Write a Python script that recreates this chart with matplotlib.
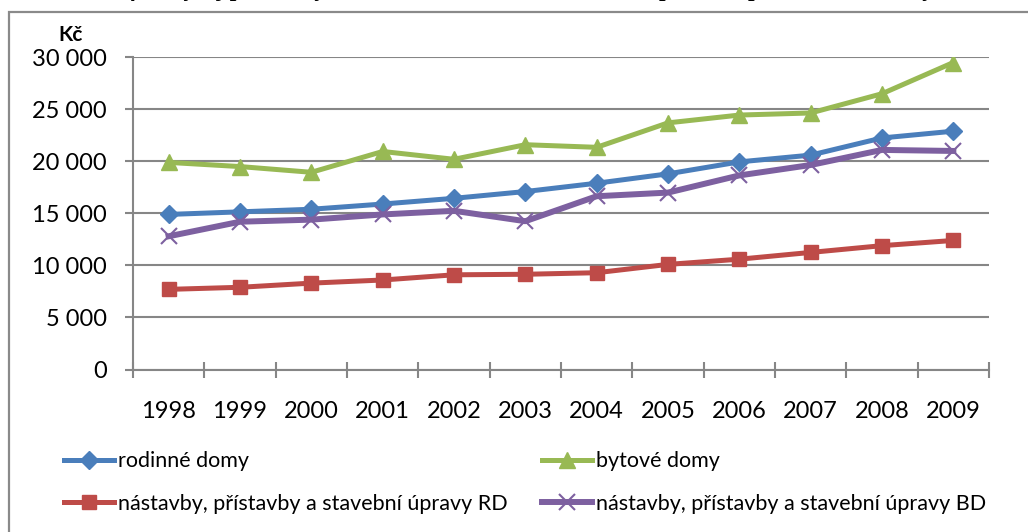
import matplotlib.pyplot as plt
from matplotlib.patches import Rectangle

plt.rcParams['font.family'] = ['Lato', 'DejaVu Sans']

years = ['1998', '1999', '2000', '2001', '2002', '2003',
         '2004', '2005', '2006', '2007', '2008', '2009']
rodinne_domy = [14900, 15150, 15400, 15900, 16450, 17100,
                17900, 18800, 19950, 20600, 22250, 22900]
bytove_domy = [19900, 19500, 18950, 20950, 20200, 21600,
               21350, 23700, 24450, 24650, 26500, 29500]
nastavby_rd = [7700, 7900, 8300, 8600, 9100, 9150,
               9300, 10100, 10600, 11250, 11900, 12400]
nastavby_bd = [12800, 14200, 14400, 14900, 15250, 14250,
               16650, 17000, 18650, 19650, 21100, 21000]
y_ticks = [0, 5000, 10000, 15000, 20000, 25000, 30000]
y_labels = ['0', '5 000', '10 000', '15 000', '20 000', '25 000', '30 000']

title = 'Graf 3: Vývoj průměrných nákladů na 1 m³ obestavěného prostoru podle druhu stavby'

W, H = 1028, 532
fig = plt.figure(figsize=(W / 100, H / 100), dpi=100)

# outer chart frame (runs off the right and bottom edge)
fig.patches.append(Rectangle((9 / W, -0.1), 1.2, 1 - 12 / H + 0.1,
                             transform=fig.transFigure, fill=False,
                             edgecolor='#8a8a8a', lw=1.6))

# title sits above the visible area, only descenders show
fig.text(0.5, 1 + 4 / H, title, ha='center', va='baseline',
         family='Liberation Serif', fontweight='bold', fontstyle='italic',
         fontsize=17)

ax = fig.add_axes([133 / W, 1 - 369.5 / H, (989 - 133) / W, (369.5 - 57.3) / H])

grey = '#868686'
x = list(range(len(years)))

ax.plot(x, rodinne_domy, color='#4a7ebb', lw=3.6, marker='D', ms=9,
        label='rodinné domy')
ax.plot(x, nastavby_rd, color='#be4b48', lw=3.6, marker='s', ms=10,
        label='nástavby, přístavby a stavební úpravy RD')
ax.plot(x, bytove_domy, color='#98b954', lw=3.6, marker='^', ms=11,
        label='bytové domy')
ax.plot(x, nastavby_bd, color='#7d60a0', lw=4.3, marker='x', ms=12, mew=1.5,
        label='nástavby, přístavby a stavební úpravy BD')

ax.set_xlim(-0.5, len(years) - 0.5)
ax.set_ylim(0, 30000)
ax.set_yticks(y_ticks)
ax.set_yticklabels(y_labels)
ax.set_xticks(x)
ax.set_xticklabels(years)
ax.set_xticks([i - 0.5 for i in range(len(years) + 1)], minor=True)

ax.grid(axis='y', color=grey, lw=1.5)
ax.set_axisbelow(True)
for s in ['top', 'right']:
    ax.spines[s].set_visible(False)
for s in ['left', 'bottom']:
    ax.spines[s].set_color(grey)
    ax.spines[s].set_linewidth(1.5)

ax.tick_params(axis='y', which='major', length=6, width=1.5, color=grey,
               pad=13, labelsize=17)
ax.tick_params(axis='x', which='major', length=0, pad=23, labelsize=17)
ax.tick_params(axis='x', which='minor', direction='inout', length=11,
               width=1.5, color=grey)

fig.text(71 / W, 1 - 35 / H, 'Kč', ha='center', va='center',
         fontsize=15, fontweight='bold')

handles, labels = ax.get_legend_handles_labels()
fig.legend(handles, labels, ncol=2, loc='upper left',
           bbox_to_anchor=(45 / W, 1 - 432 / H), frameon=False,
           fontsize=15.5, handlelength=2.3, handletextpad=0.2,
           columnspacing=1.6, labelspacing=1.05)

fig.savefig('out.png', dpi=100)
